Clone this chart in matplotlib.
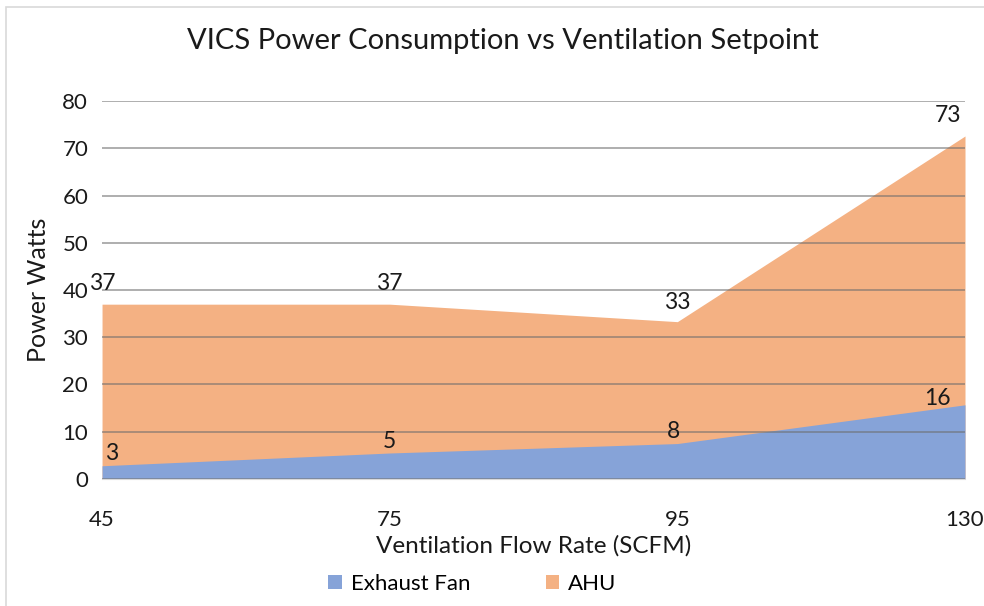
import matplotlib
matplotlib.use("Agg")
import matplotlib.pyplot as plt
import numpy as np

plt.rcParams['font.family'] = ['Lato', 'DejaVu Sans']

categories = ["45", "75", "95", "130"]
exhaust_fan = [2.8, 5.5, 7.5, 15.7]
ahu = [37.0, 37.0, 33.3, 72.6]
exhaust_labels = ["3", "5", "8", "16"]
ahu_labels = ["37", "37", "33", "73"]

title = "VICS Power Consumption vs Ventilation Setpoint"
xlabel = "Ventilation Flow Rate (SCFM)"
ylabel = "Power Watts"

c_blue = "#86A3D8"
c_orange = "#F4B183"
tc = "#1a1a1a"

fig = plt.figure(figsize=(9.84, 6.06), dpi=100)
ax = fig.add_axes([0.1037, 0.2096, 0.877, 0.6237])

x = np.arange(len(categories))
ax.fill_between(x, 0, ahu, color=c_orange, linewidth=0, zorder=1, label="AHU")
ax.fill_between(x, 0, exhaust_fan, color=c_blue, linewidth=0, zorder=2, label="Exhaust Fan")

ax.set_xlim(0, len(categories) - 1)
ax.set_ylim(0, 80)
ax.set_yticks(range(0, 81, 10))
ax.set_xticks(x)
ax.set_xticklabels(categories)
ax.yaxis.grid(True, color="#6e6e6e", alpha=0.6, linewidth=1.3, zorder=3)
ax.set_axisbelow(False)
for s in ["left", "right", "top"]:
    ax.spines[s].set_visible(False)
ax.spines["bottom"].set_color("#d9d9d9")
ax.spines["bottom"].set_zorder(4)
ax.tick_params(axis="both", length=0, labelsize=16, colors=tc)
ax.tick_params(axis="x", pad=22)
ax.tick_params(axis="y", pad=10)

fig.text(0.511, 0.932, title, fontsize=21, color=tc, ha="center", va="center")
ax.set_xlabel(xlabel, fontsize=17.5, color=tc, labelpad=4)
ax.set_ylabel(ylabel, fontsize=18, color=tc, labelpad=9)

# data labels
ahu_offsets = [(0, 7), (0, 7), (0, 6), (-12, 7)]
ex_offsets = [(7, 1), (0, 1), (-3, 1), (-20, -3)]
for i in range(len(categories)):
    ax.annotate(ahu_labels[i], (x[i], ahu[i]), xytext=ahu_offsets[i],
                textcoords="offset points", ha="center", va="bottom",
                fontsize=16.5, color=tc, zorder=5, annotation_clip=False)
    ax.annotate(exhaust_labels[i], (x[i], exhaust_fan[i]), xytext=ex_offsets[i],
                textcoords="offset points", ha="center", va="bottom",
                fontsize=16.5, color=tc, zorder=5, annotation_clip=False)

handles, labels = ax.get_legend_handles_labels()
order = [1, 0]
fig.legend([handles[i] for i in order], [labels[i] for i in order],
           loc="center", bbox_to_anchor=(0.48, 0.036), ncol=2, frameon=False,
           fontsize=16, handlelength=0.6, handleheight=0.6, columnspacing=3.4,
           handletextpad=0.4)

# outer frame like the screenshot
fig.patches.append(plt.Rectangle((0.006, -0.01), 1.2, 0.999, transform=fig.transFigure,
                                 fill=False, edgecolor="#d9d9d9", linewidth=1.2))

fig.savefig("out.png", dpi=100)
